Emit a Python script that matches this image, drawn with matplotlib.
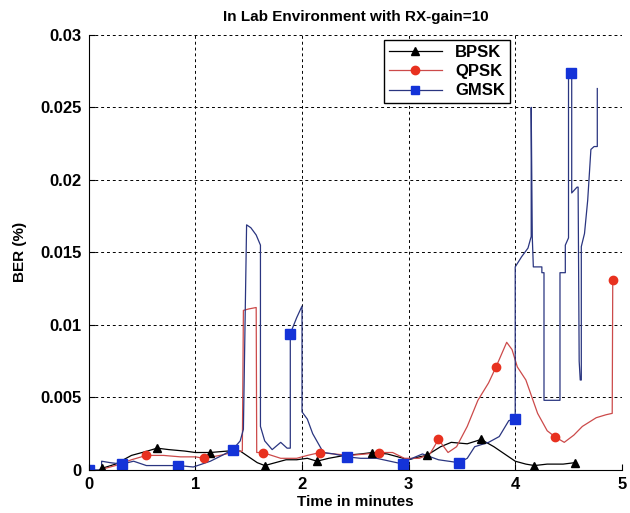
import matplotlib
matplotlib.use('Agg')
import matplotlib.pyplot as plt
from matplotlib.lines import Line2D

plt.rcParams['font.family'] = ['Liberation Sans', 'DejaVu Sans']

# BPSK trace and its marker points
bpsk_x = [0.12, 0.25, 0.4, 0.55, 0.64, 0.75, 0.9, 1.0, 1.14, 1.3, 1.42, 1.5, 1.58, 1.65, 1.75, 1.85,
          1.95, 2.05, 2.14, 2.25, 2.4, 2.55, 2.66, 2.8, 2.9, 3.0, 3.1, 3.17, 3.3, 3.4, 3.55, 3.68, 3.8,
          3.9, 4.0, 4.1, 4.18, 4.3, 4.45, 4.56]
bpsk_y = [0.0001, 0.0004, 0.0010, 0.0013, 0.0015, 0.0014, 0.0013, 0.0012, 0.0012, 0.0013, 0.0013,
          0.0009, 0.0005, 0.0003, 0.0005, 0.0007, 0.0007, 0.0008, 0.0006, 0.0008, 0.0010, 0.0011,
          0.0012, 0.0011, 0.0009, 0.0007, 0.0009, 0.0010, 0.0016, 0.0019, 0.0018, 0.0021, 0.0016,
          0.0011, 0.0006, 0.0004, 0.0003, 0.0004, 0.0004, 0.0005]
bpsk_mx = [0.12, 0.64, 1.14, 1.65, 2.14, 2.66, 3.17, 3.68, 4.18, 4.56]
bpsk_my = [0.0001, 0.0015, 0.0012, 0.0003, 0.0006, 0.0012, 0.0010, 0.0021, 0.0003, 0.0005]

# QPSK
qpsk_x = [0.1, 0.25, 0.4, 0.54, 0.7, 0.86, 1.0, 1.08, 1.23, 1.35, 1.44, 1.45, 1.5, 1.57, 1.575,
          1.63, 1.8, 1.95, 2.05, 2.17, 2.3, 2.45, 2.6, 2.72, 2.85, 2.96, 3.1, 3.2, 3.28, 3.37, 3.45,
          3.55, 3.65, 3.75, 3.82, 3.92, 3.97, 4.02, 4.1, 4.21, 4.3, 4.37, 4.46, 4.55, 4.63, 4.76,
          4.85, 4.91, 4.915]
qpsk_y = [0.0, 0.0003, 0.0007, 0.0010, 0.0010, 0.0009, 0.0009, 0.0008, 0.0010, 0.0012, 0.0013,
          0.0110, 0.0111, 0.0112, 0.0012, 0.0012, 0.0008, 0.0008, 0.0010, 0.0012, 0.0011, 0.0010,
          0.0011, 0.0012, 0.0012, 0.0008, 0.0008, 0.0011, 0.0021, 0.0012, 0.0016, 0.0030, 0.0048,
          0.0060, 0.0071, 0.0088, 0.0083, 0.0071, 0.0062, 0.0039, 0.0027, 0.0023, 0.0019, 0.0024,
          0.0030, 0.0036, 0.0038, 0.0039, 0.0131]
qpsk_mx = [0.54, 1.08, 1.63, 2.17, 2.72, 3.28, 3.82, 4.37, 4.915]
qpsk_my = [0.0010, 0.0008, 0.0012, 0.0012, 0.0012, 0.0021, 0.0071, 0.0023, 0.0131]

# GMSK
gmsk_x = [0, 0.12, 0.12, 0.2, 0.31, 0.42, 0.54, 0.7, 0.84, 0.98, 1.14, 1.25, 1.35, 1.42, 1.45, 1.48,
          1.52, 1.57, 1.61, 1.61, 1.65, 1.72, 1.8, 1.86, 1.89, 1.89, 1.95, 2.0, 2.0, 2.05, 2.1, 2.2,
          2.3, 2.42, 2.55, 2.7, 2.95, 3.0, 3.13, 3.28, 3.47, 3.55, 3.62, 3.75, 3.85, 3.94, 4.0, 4.0,
          4.06, 4.12, 4.15, 4.15, 4.16, 4.17, 4.25, 4.25, 4.27, 4.27, 4.4, 4.42, 4.42, 4.47, 4.47,
          4.5, 4.5, 4.52, 4.53, 4.53, 4.58, 4.59, 4.6, 4.61, 4.62, 4.62, 4.65, 4.68, 4.71, 4.74, 4.77,
          4.77]
gmsk_y = [0, 0, 0.0006, 0.0005, 0.0004, 0.0006, 0.0003, 0.0003, 0.0003, 0.0002, 0.0006, 0.0010,
          0.0014, 0.0020, 0.0028, 0.0169, 0.0167, 0.0162, 0.0155, 0.0030, 0.0020, 0.0014, 0.0019,
          0.0015, 0.0015, 0.0094, 0.0105, 0.0113, 0.0040, 0.0035, 0.0025, 0.0012, 0.0011, 0.0009,
          0.0008, 0.0008, 0.0004, 0.0007, 0.0011, 0.0007, 0.0005, 0.0008, 0.0016, 0.0019, 0.0023,
          0.0034, 0.0035, 0.0140, 0.0147, 0.0153, 0.0161, 0.0250, 0.0161, 0.0140, 0.0140, 0.0136,
          0.0136, 0.0048, 0.0048, 0.0048, 0.0136, 0.0136, 0.0155, 0.0160, 0.0274, 0.0274, 0.0274,
          0.0191, 0.0195, 0.0195, 0.0075, 0.0062, 0.0062, 0.0154, 0.0163, 0.0186, 0.0221, 0.0223,
          0.0223, 0.0263]
gmsk_mx = [0, 0.31, 0.84, 1.35, 1.89, 2.42, 2.95, 3.47, 4.0, 4.52]
gmsk_my = [0, 0.0004, 0.0003, 0.0014, 0.0094, 0.0009, 0.0004, 0.0005, 0.0035, 0.0274]

fig = plt.figure(figsize=(6.3, 5.13), dpi=100)
ax = fig.add_axes([0.141, 0.084, 0.846, 0.848])

blk, red_l, red_m, blu_l, blu_m = 'black', '#cc4a4a', '#e8311f', '#2a3580', '#1433d8'

ax.plot(bpsk_x, bpsk_y, color=blk, lw=0.9)
ax.plot(qpsk_x, qpsk_y, color=red_l, lw=0.9)
ax.plot(gmsk_x, gmsk_y, color=blu_l, lw=0.9)
ax.plot(bpsk_mx, bpsk_my, '^', color=blk, ms=6, ls='none')
ax.plot(qpsk_mx, qpsk_my, 'o', color=red_m, ms=6, ls='none')
ax.plot(gmsk_mx, gmsk_my, 's', color=blu_m, ms=7, ls='none')

ax.set_xlim(0, 5)
ax.set_ylim(0, 0.03)
ax.set_xticks([0, 1, 2, 3, 4, 5])
ax.set_yticks([0, 0.005, 0.01, 0.015, 0.02, 0.025, 0.03])
ax.set_yticklabels(['0', '0.005', '0.01', '0.015', '0.02', '0.025', '0.03'])
ax.tick_params(direction='in', length=4, labelsize=12, pad=5)
for lab in ax.get_xticklabels() + ax.get_yticklabels():
    lab.set_fontweight('bold')
ax.grid(True, color='black', ls=(0, (3, 3)), lw=0.7)
ax.spines['top'].set_visible(False)
ax.spines['right'].set_visible(False)

ax.set_title('In Lab Environment with RX-gain=10', fontsize=11, fontweight='bold', pad=10)
ax.set_xlabel('Time in minutes', fontsize=11, fontweight='bold', labelpad=2)
ax.set_ylabel('BER (%)', fontsize=11, fontweight='bold', labelpad=10)

handles = [
    Line2D([], [], color=blk, lw=0.9, marker='^', ms=6),
    Line2D([], [], color=red_l, lw=0.9, marker='o', ms=6, mfc=red_m, mec=red_m),
    Line2D([], [], color=blu_l, lw=0.9, marker='s', ms=6, mfc=blu_m, mec=blu_m),
]
leg = ax.legend(handles, ['BPSK', 'QPSK', 'GMSK'], loc='upper left', bbox_to_anchor=(0.553, 0.988),
                borderaxespad=0, fancybox=False, framealpha=1, edgecolor='black',
                prop={'weight': 'bold', 'size': 12},
                handlelength=3.2, borderpad=0.3, labelspacing=0.25)
leg.get_frame().set_linewidth(1.0)

fig.savefig('out.png', dpi=100)
